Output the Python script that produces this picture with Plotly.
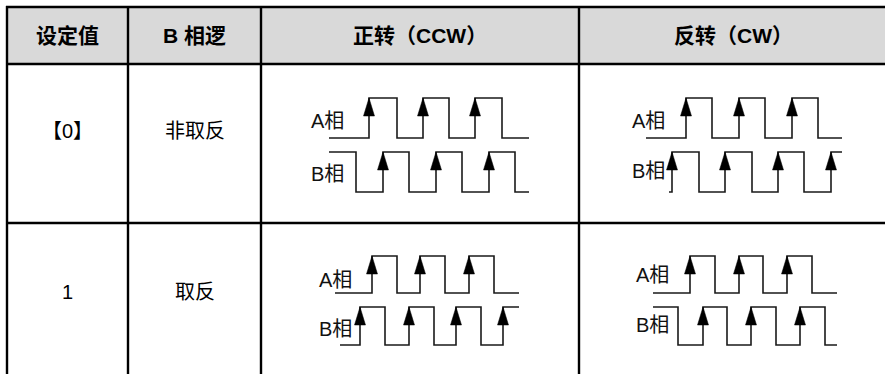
import plotly.graph_objects as go

# ---------------- data ----------------
headers = ["设定值", "B 相逻", "正转（CCW）", "反转（CW）"]
setting_values = ["【0】", "1"]
b_logic = ["非取反", "取反"]
phase_labels = ["A相", "B相"]

# waveform edges (x positions of transitions), start level (1 high / 0 low), start x, end x
# row 0, CCW
r0_ccw_A = dict(start=329, level=0, edges=[369, 397, 423, 449, 475, 502], end=529)
r0_ccw_B = dict(start=329, level=1, edges=[356, 383, 409, 436, 462, 489, 515], end=529)
# row 0, CW
r0_cw_A = dict(start=646, level=0, edges=[686, 712, 739, 765, 792, 818], end=842)
r0_cw_B = dict(start=669, level=0, edges=[672, 699, 725, 752, 778, 804, 831], end=842)
# row 1, CCW
r1_ccw_A = dict(start=335, level=0, edges=[372, 397, 420, 445, 469, 494], end=519)
r1_ccw_B = dict(start=340, level=0, edges=[360, 385, 409, 434, 456, 481, 503], end=519)
# row 1, CW
r1_cw_A = dict(start=653, level=0, edges=[690, 715, 739, 763, 787, 812], end=837)
r1_cw_B = dict(start=653, level=1, edges=[678, 703, 727, 751, 776, 800, 825], end=837)

# ---------------- layout geometry ----------------
W, H = 885, 374
col_edges = [7, 128, 261, 579, 892]
row_edges = [7, 64, 223, 384]
header_fill = "#d9d9d9"
FONT = "Liberation Sans, Arial, Noto Sans CJK SC, sans-serif"

cells = [
    # (waveA, waveB, A high/low y, B high/low y, label right x, A label y, B label y)
    (r0_ccw_A, r0_ccw_B, (98, 138), (152, 192), 346, 121, 174),
    (r0_cw_A, r0_cw_B, (98, 138), (152, 192), 667, 121, 171),
    (r1_ccw_A, r1_ccw_B, (256, 293), (307, 345), 354, 280, 329),
    (r1_cw_A, r1_cw_B, (256, 293), (307, 345), 671, 275, 325),
]

fig = go.Figure()

# header background
fig.add_shape(type="rect", x0=col_edges[0], x1=col_edges[-1], y0=row_edges[0], y1=row_edges[1],
              fillcolor=header_fill, line_width=0, layer="below")
# grid lines
for y in row_edges[:3]:
    fig.add_shape(type="line", x0=col_edges[0] - 1, x1=col_edges[-1], y0=y, y1=y,
                  line=dict(color="black", width=2.4))
for x in col_edges[:4]:
    fig.add_shape(type="line", x0=x, x1=x, y0=row_edges[0] - 1, y1=row_edges[-1],
                  line=dict(color="black", width=2.4))


def wave_xy(w, lv):
    hi, lo = lv
    lvl = w["level"]
    xs = [w["start"]]
    ys = [hi if lvl else lo]
    rises = []
    for e in w["edges"]:
        xs.append(e)
        ys.append(hi if lvl else lo)
        lvl = 1 - lvl
        if lvl == 1:
            rises.append(e)
        xs.append(e)
        ys.append(hi if lvl else lo)
    xs.append(w["end"])
    ys.append(hi if lvl else lo)
    return xs, ys, rises


ax, ay = [], []
for wA, wB, lvA, lvB, lx, lya, lyb in cells:
    for w, lv in ((wA, lvA), (wB, lvB)):
        xs, ys, rises = wave_xy(w, lv)
        fig.add_trace(go.Scatter(x=xs, y=ys, mode="lines",
                                 line=dict(color="#1a1a1a", width=1.6),
                                 hoverinfo="skip", showlegend=False))
        hi = lv[0]
        for r in rises:
            ax += [r, r - 5.5, r + 5.5, r, None]
            ay += [hi, hi + 18, hi + 18, hi, None]
    for txt, yy in zip(phase_labels, (lya, lyb)):
        fig.add_annotation(x=lx, y=yy, text=txt, showarrow=False, xanchor="right", yanchor="middle",
                           font=dict(family=FONT, size=20, color="#111"))

fig.add_trace(go.Scatter(x=ax, y=ay, mode="lines", fill="toself", fillcolor="black",
                         line=dict(color="black", width=0.5), hoverinfo="skip", showlegend=False))

# header text
header_x = [67.5, 194.5, 420, 733]
for h, cx in zip(headers, header_x):
    fig.add_annotation(x=cx, y=35, text="<b>" + h + "</b>", showarrow=False,
                       font=dict(family=FONT, size=21, color="black"))

# body text
row_text_y = [131, 292]
for r in range(2):
    fig.add_annotation(x=(col_edges[0] + col_edges[1]) / 2, y=row_text_y[r], text=setting_values[r],
                       showarrow=False, font=dict(family=FONT, size=20, color="black"))
    fig.add_annotation(x=(col_edges[1] + col_edges[2]) / 2, y=row_text_y[r], text=b_logic[r],
                       showarrow=False, font=dict(family=FONT, size=20, color="black"))

fig.update_layout(
    width=W, height=H, margin=dict(l=0, r=0, t=0, b=0),
    paper_bgcolor="white", plot_bgcolor="white",
    xaxis=dict(range=[0, W], visible=False, fixedrange=True),
    yaxis=dict(range=[H, 0], visible=False, fixedrange=True),
)

fig.write_html("out.html", config={"displayModeBar": False},
               post_script="document.body.style.margin='0';document.body.style.overflow='hidden';")
